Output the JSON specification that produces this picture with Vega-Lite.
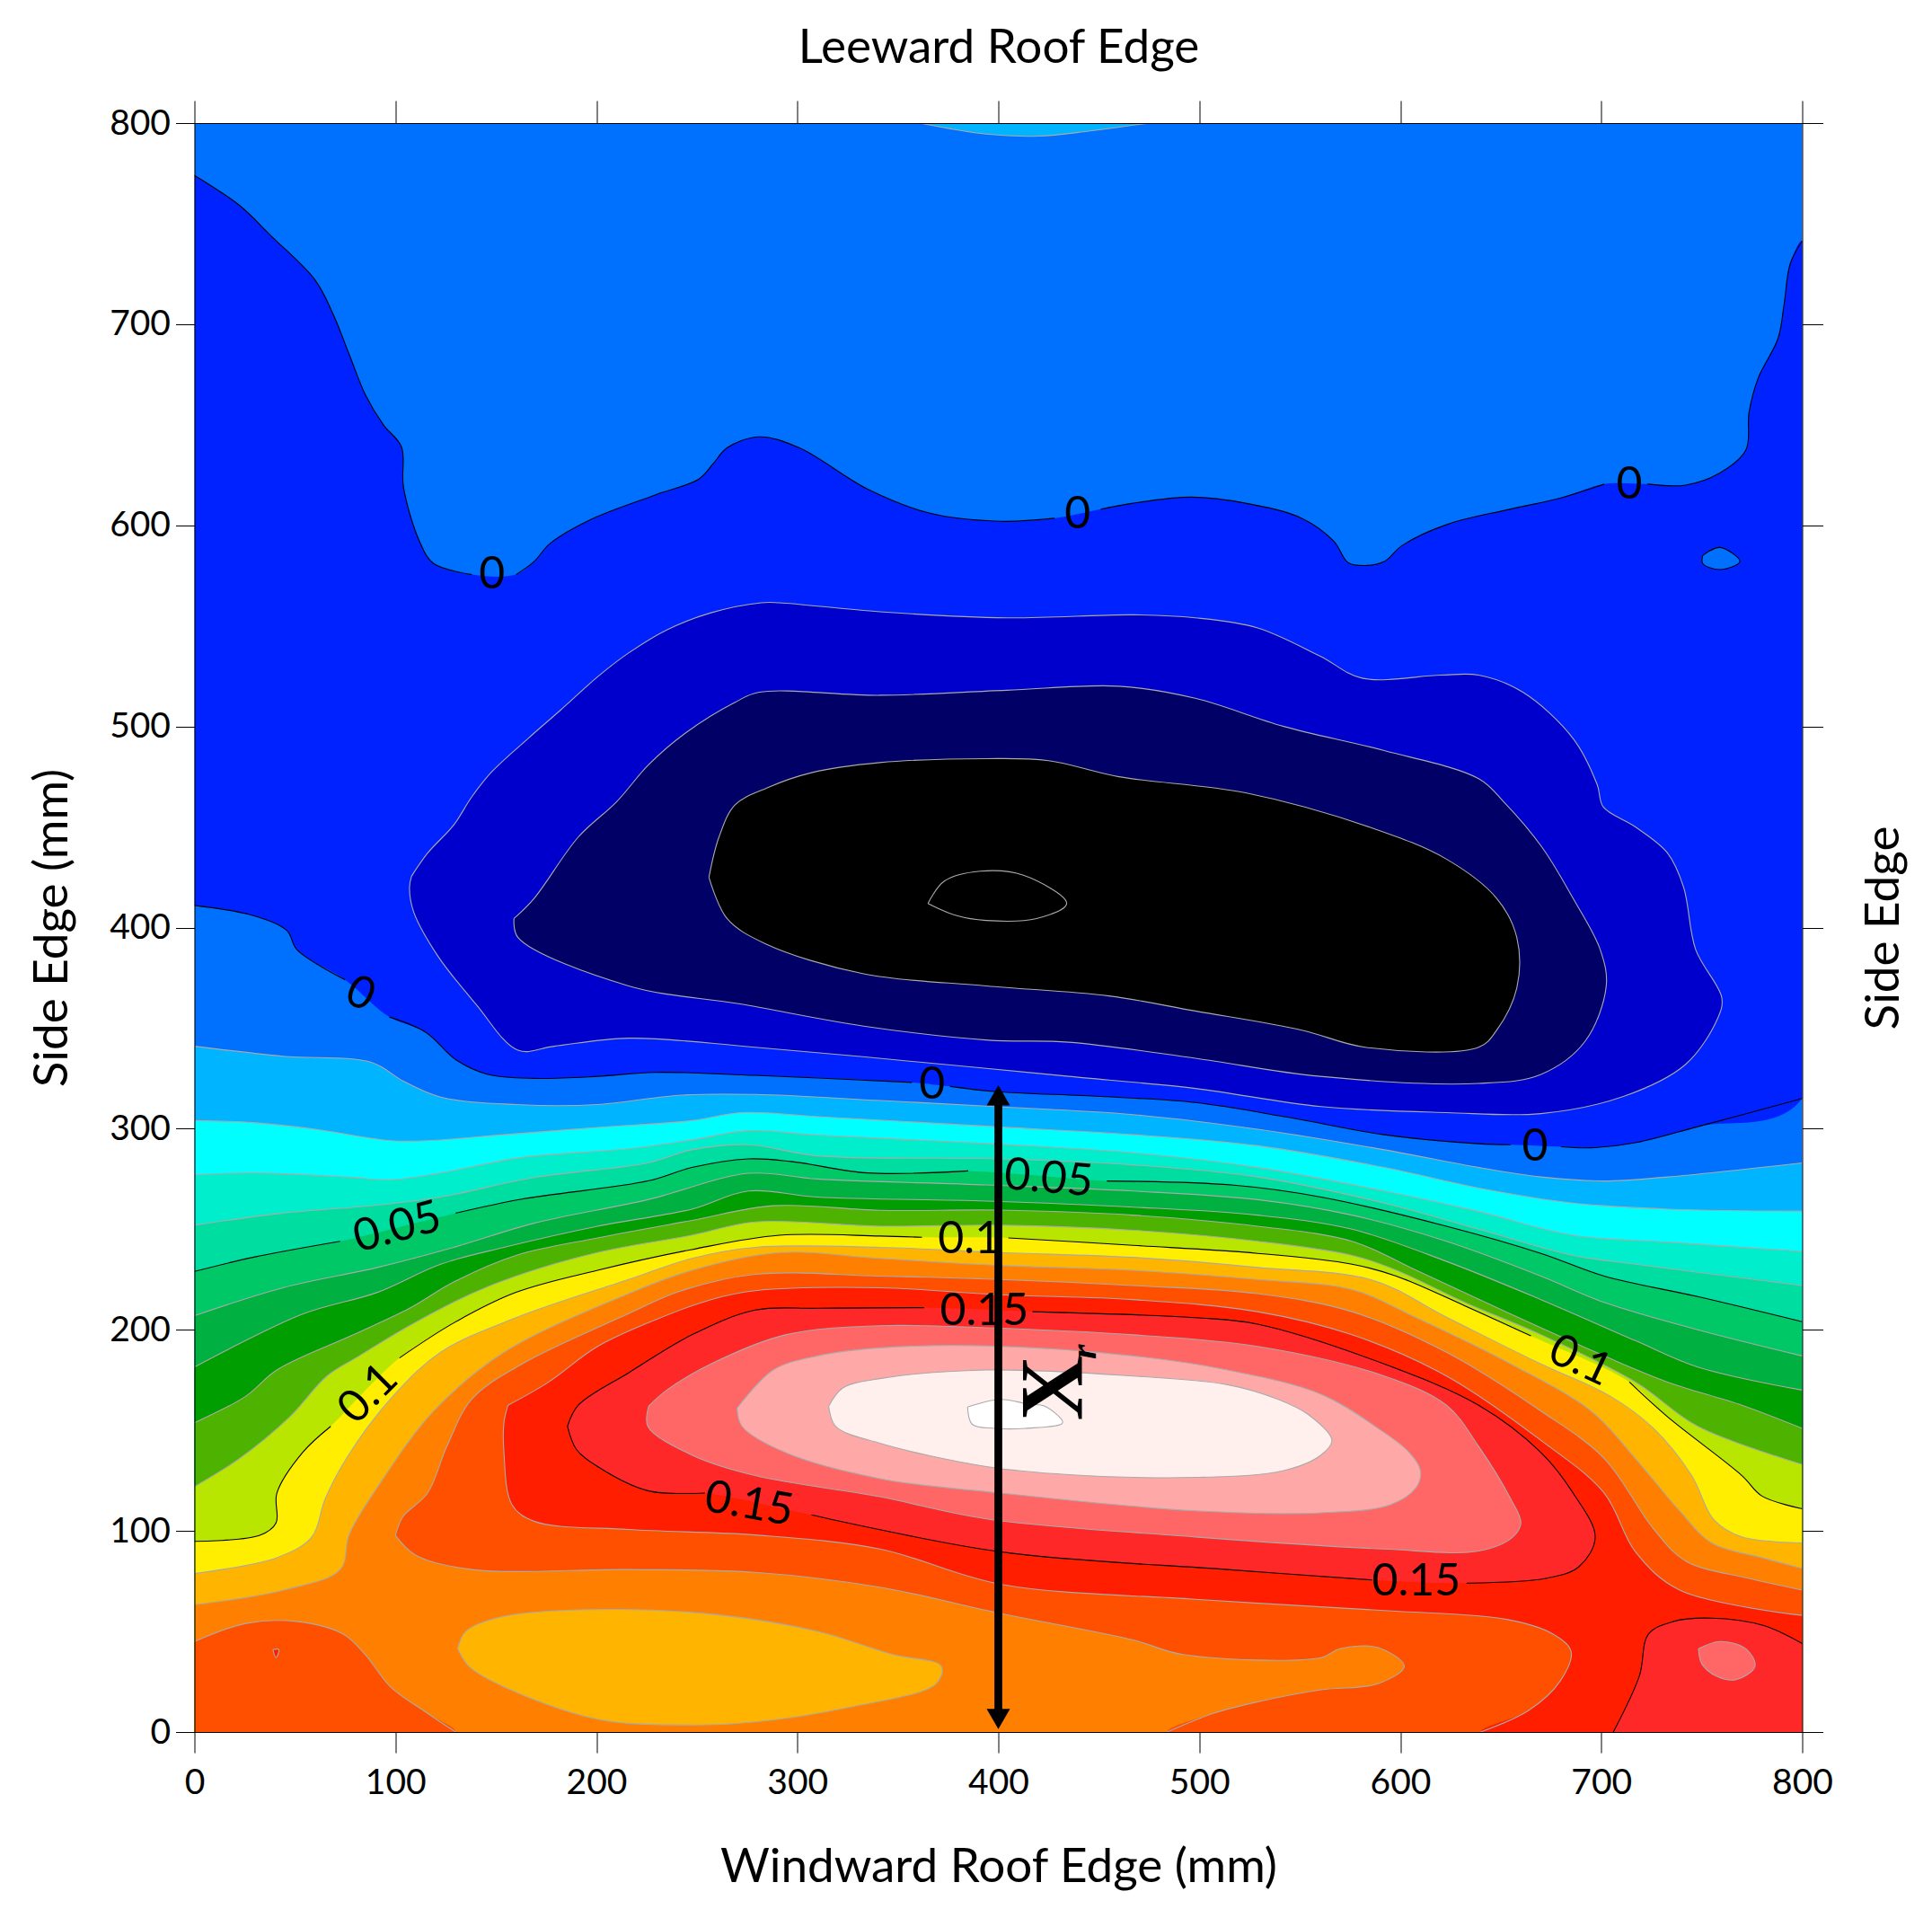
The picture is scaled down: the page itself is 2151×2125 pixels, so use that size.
{
"$schema":"https://vega.github.io/schema/vega-lite/v6.json",
"width":1790,"height":1791,
"autosize":{"type":"none"},
"padding":{"left":216.5,"top":137,"right":144.5,"bottom":197},
"background":"white",
"config":{"view":{"stroke":null},"font":"Lato"},
"datasets":{"regions":[
{"p":"b0","band":0,"contour":0},{"p":"cap","band":0.01,"contour":0.01},{"p":"n1","band":-0.01,"contour":0},{"p":"isl","band":0,"contour":0},
{"p":"n2","band":-0.02,"contour":-0.01},{"p":"n3","band":-0.03,"contour":-0.02},{"p":"n4","band":-0.04,"contour":-0.03},{"p":"n5","band":-0.05,"contour":-0.04},
{"p":"h1","band":0.01,"contour":0.01},{"p":"h2","band":0.02,"contour":0.02},{"p":"h3","band":0.03,"contour":0.03},{"p":"h4","band":0.04,"contour":0.04},{"p":"h5","band":0.05,"contour":0.05},
{"p":"h6","band":0.06,"contour":0.06},{"p":"h7","band":0.07,"contour":0.07},{"p":"h8","band":0.08,"contour":0.08},{"p":"h9","band":0.09,"contour":0.09},{"p":"h10","band":0.1,"contour":0.1},
{"p":"h11","band":0.11,"contour":0.11},{"p":"h12","band":0.12,"contour":0.12},{"p":"i11","band":0.11,"contour":0.12},{"p":"h13","band":0.13,"contour":0.13},{"p":"h13b","band":0.13,"contour":0.13},
{"p":"h14","band":0.14,"contour":0.14},{"p":"spot","band":0.14,"contour":0.14},{"p":"h15","band":0.15,"contour":0.15},{"p":"h15b","band":0.15,"contour":0.15},{"p":"h16","band":0.16,"contour":0.16},{"p":"i16","band":0.16,"contour":0.16},
{"p":"h17","band":0.17,"contour":0.17},{"p":"h18","band":0.18,"contour":0.18},{"p":"h19","band":0.19,"contour":0.19}
]},
"data":{"values":[
{"p":"b0","x":0,"y":0},{"p":"b0","x":800,"y":0},{"p":"b0","x":800,"y":800},{"p":"b0","x":0,"y":800},
{"p":"cap","x":361,"y":800,"s":1},{"p":"cap","x":394,"y":794.5,"s":1},{"p":"cap","x":420,"y":793.5,"s":1},{"p":"cap","x":445,"y":796,"s":1},{"p":"cap","x":475,"y":800,"s":1},
{"p":"n1","x":0,"y":774,"s":1},{"p":"n1","x":22.5,"y":759,"s":1},{"p":"n1","x":38,"y":744,"s":1},{"p":"n1","x":60,"y":722,"s":1},{"p":"n1","x":69,"y":705,"s":1},{"p":"n1","x":77,"y":685,"s":1},{"p":"n1","x":85,"y":665,"s":1},{"p":"n1","x":94,"y":650,"s":1},{"p":"n1","x":103,"y":639,"s":1},{"p":"n1","x":104,"y":619,"s":1},{"p":"n1","x":112,"y":592,"s":1},{"p":"n1","x":119,"y":581,"s":1},{"p":"n1","x":138,"y":575.5,"s":1},
{"p":"n1","x":160,"y":575.5,"s":2},{"p":"n1","x":169,"y":582,"s":2},{"p":"n1","x":177,"y":591,"s":2},{"p":"n1","x":197.5,"y":603,"s":2},{"p":"n1","x":229,"y":615,"s":2},{"p":"n1","x":251,"y":623,"s":2},{"p":"n1","x":258,"y":630.5,"s":2},{"p":"n1","x":265,"y":638.5,"s":2},{"p":"n1","x":281,"y":644,"s":2},{"p":"n1","x":301,"y":638.5,"s":2},{"p":"n1","x":335,"y":618,"s":2},{"p":"n1","x":366,"y":606,"s":2},{"p":"n1","x":401,"y":602,"s":2},{"p":"n1","x":428,"y":603.5,"s":2},
{"p":"n1","x":451,"y":608,"s":3},{"p":"n1","x":467,"y":611,"s":3},{"p":"n1","x":496,"y":614,"s":3},{"p":"n1","x":523,"y":611,"s":3},{"p":"n1","x":551,"y":603.5,"s":3},{"p":"n1","x":567,"y":592,"s":3},{"p":"n1","x":574,"y":581.5,"s":3},{"p":"n1","x":582.5,"y":580,"s":3},{"p":"n1","x":592,"y":582,"s":3},{"p":"n1","x":601,"y":590,"s":3},{"p":"n1","x":623.5,"y":600.5,"s":3},{"p":"n1","x":654.5,"y":608,"s":3},{"p":"n1","x":679.5,"y":613.5,"s":3},{"p":"n1","x":701.5,"y":620.5,"s":3},
{"p":"n1","x":723,"y":620.5,"s":4},{"p":"n1","x":742,"y":620,"s":4},{"p":"n1","x":759,"y":626,"s":4},{"p":"n1","x":772,"y":637.5,"s":4},{"p":"n1","x":773.5,"y":656,"s":4},{"p":"n1","x":778,"y":673,"s":4},{"p":"n1","x":788,"y":693,"s":4},{"p":"n1","x":791,"y":710,"s":4},{"p":"n1","x":794,"y":730,"s":4},{"p":"n1","x":800,"y":741.5,"s":4},
{"p":"n1","x":800,"y":315,"s":5},{"p":"n1","x":748,"y":301,"s":5},{"p":"n1","x":717,"y":293,"s":5},{"p":"n1","x":695,"y":290.5,"s":5},{"p":"n1","x":680,"y":291,"s":5},
{"p":"n1","x":655,"y":292,"s":6},{"p":"n1","x":639,"y":292.5,"s":6},{"p":"n1","x":592,"y":297,"s":6},{"p":"n1","x":545,"y":305.5,"s":6},{"p":"n1","x":498,"y":313,"s":6},{"p":"n1","x":451,"y":316,"s":6},{"p":"n1","x":398,"y":318.5,"s":6},{"p":"n1","x":376,"y":321,"s":6},
{"p":"n1","x":357,"y":323,"s":7},{"p":"n1","x":279,"y":326.5,"s":7},{"p":"n1","x":229,"y":328,"s":7},{"p":"n1","x":200.6,"y":326,"s":7},{"p":"n1","x":169,"y":325,"s":7},{"p":"n1","x":146,"y":327,"s":7},{"p":"n1","x":130.5,"y":334,"s":7},{"p":"n1","x":115,"y":348,"s":7},{"p":"n1","x":97,"y":355.5,"s":7},
{"p":"n1","x":75,"y":374,"s":8},{"p":"n1","x":51,"y":389,"s":8},{"p":"n1","x":46,"y":398.5,"s":8},{"p":"n1","x":29,"y":406,"s":8},{"p":"n1","x":0,"y":411,"s":8},
{"p":"isl","x":750.5,"y":585,"s":1},{"p":"isl","x":759,"y":589,"s":1},{"p":"isl","x":769,"y":582,"s":1},{"p":"isl","x":759,"y":578,"s":1},{"p":"isl","x":750.5,"y":581,"s":1},{"p":"isl","x":750.5,"y":585,"s":1},
{"p":"n2","x":108,"y":425.5,"s":1},{"p":"n2","x":116,"y":437,"s":1},{"p":"n2","x":129,"y":451,"s":1},{"p":"n2","x":138,"y":465,"s":1},{"p":"n2","x":147.5,"y":477,"s":1},{"p":"n2","x":166,"y":494,"s":1},{"p":"n2","x":182,"y":508,"s":1},{"p":"n2","x":201,"y":525,"s":1},{"p":"n2","x":216,"y":536.5,"s":1},{"p":"n2","x":235,"y":548,"s":1},{"p":"n2","x":257,"y":556.5,"s":1},{"p":"n2","x":282,"y":561.5,"s":1},{"p":"n2","x":291,"y":561.5,"s":1},{"p":"n2","x":341,"y":557,"s":1},{"p":"n2","x":404,"y":554,"s":1},{"p":"n2","x":467,"y":555.5,"s":1},{"p":"n2","x":498,"y":554,"s":1},{"p":"n2","x":529,"y":549,"s":1},{"p":"n2","x":560,"y":535,"s":1},{"p":"n2","x":581,"y":524,"s":1},{"p":"n2","x":620,"y":525.5,"s":1},{"p":"n2","x":639,"y":525.5,"s":1},{"p":"n2","x":661,"y":517,"s":1},{"p":"n2","x":686,"y":494,"s":1},{"p":"n2","x":698,"y":471,"s":1},{"p":"n2","x":701,"y":460,"s":1},{"p":"n2","x":717,"y":450,"s":1},{"p":"n2","x":733,"y":437,"s":1},{"p":"n2","x":741,"y":420,"s":1},{"p":"n2","x":747,"y":389,"s":1},{"p":"n2","x":760,"y":365,"s":1},{"p":"n2","x":758,"y":355,"s":1},{"p":"n2","x":742,"y":332,"s":1},{"p":"n2","x":711,"y":316,"s":1},{"p":"n2","x":670,"y":307.5,"s":1},{"p":"n2","x":623,"y":308,"s":1},{"p":"n2","x":560.5,"y":311,"s":1},{"p":"n2","x":498,"y":320,"s":1},{"p":"n2","x":435,"y":326,"s":1},{"p":"n2","x":394,"y":330,"s":1},{"p":"n2","x":279,"y":340.5,"s":1},{"p":"n2","x":216,"y":345,"s":1},{"p":"n2","x":179,"y":341,"s":1},{"p":"n2","x":161,"y":339,"s":1},{"p":"n2","x":140,"y":362,"s":1},{"p":"n2","x":121,"y":386,"s":1},{"p":"n2","x":109,"y":408,"s":1},{"p":"n2","x":107,"y":420,"s":1},{"p":"n2","x":108,"y":425.5,"s":1},
{"p":"n3","x":159,"y":404.5,"s":1},{"p":"n3","x":169,"y":414.5,"s":1},{"p":"n3","x":191,"y":445,"s":1},{"p":"n3","x":210,"y":462.5,"s":1},{"p":"n3","x":226,"y":481,"s":1},{"p":"n3","x":244,"y":496.5,"s":1},{"p":"n3","x":269,"y":512,"s":1},{"p":"n3","x":281,"y":517,"s":1},{"p":"n3","x":341,"y":515.5,"s":1},{"p":"n3","x":404,"y":518,"s":1},{"p":"n3","x":460,"y":520,"s":1},{"p":"n3","x":498,"y":514,"s":1},{"p":"n3","x":542,"y":500,"s":1},{"p":"n3","x":592,"y":488,"s":1},{"p":"n3","x":639,"y":474,"s":1},{"p":"n3","x":651.5,"y":462.5,"s":1},{"p":"n3","x":670.5,"y":440,"s":1},{"p":"n3","x":686,"y":414.5,"s":1},{"p":"n3","x":699.5,"y":389,"s":1},{"p":"n3","x":702.5,"y":371,"s":1},{"p":"n3","x":692,"y":343.5,"s":1},{"p":"n3","x":670,"y":327,"s":1},{"p":"n3","x":639,"y":322.5,"s":1},{"p":"n3","x":560,"y":326,"s":1},{"p":"n3","x":498,"y":335,"s":1},{"p":"n3","x":435,"y":343,"s":1},{"p":"n3","x":395,"y":344,"s":1},{"p":"n3","x":333,"y":351,"s":1},{"p":"n3","x":271.5,"y":362,"s":1},{"p":"n3","x":216,"y":371,"s":1},{"p":"n3","x":161,"y":395,"s":1},{"p":"n3","x":159,"y":404.5,"s":1},
{"p":"n4","x":256,"y":425,"s":1},{"p":"n4","x":261,"y":445,"s":1},{"p":"n4","x":269,"y":461,"s":1},{"p":"n4","x":285,"y":469.5,"s":1},{"p":"n4","x":307,"y":477,"s":1},{"p":"n4","x":341,"y":482,"s":1},{"p":"n4","x":394,"y":484,"s":1},{"p":"n4","x":425,"y":483,"s":1},{"p":"n4","x":460,"y":475,"s":1},{"p":"n4","x":523,"y":467,"s":1},{"p":"n4","x":586,"y":449.5,"s":1},{"p":"n4","x":623,"y":434,"s":1},{"p":"n4","x":648,"y":414.5,"s":1},{"p":"n4","x":658,"y":395,"s":1},{"p":"n4","x":658,"y":370,"s":1},{"p":"n4","x":648,"y":349,"s":1},{"p":"n4","x":639,"y":340.5,"s":1},{"p":"n4","x":582.5,"y":340.5,"s":1},{"p":"n4","x":551,"y":349,"s":1},{"p":"n4","x":498,"y":358.5,"s":1},{"p":"n4","x":455,"y":366,"s":1},{"p":"n4","x":394,"y":371,"s":1},{"p":"n4","x":333,"y":377,"s":1},{"p":"n4","x":284,"y":392,"s":1},{"p":"n4","x":265,"y":404.5,"s":1},{"p":"n4","x":256,"y":425,"s":1},
{"p":"n5","x":365,"y":412,"s":1},{"p":"n5","x":373,"y":423,"s":1},{"p":"n5","x":391,"y":428,"s":1},{"p":"n5","x":412.5,"y":426,"s":1},{"p":"n5","x":434,"y":412,"s":1},{"p":"n5","x":419,"y":404.5,"s":1},{"p":"n5","x":394,"y":403.5,"s":1},{"p":"n5","x":379,"y":406,"s":1},{"p":"n5","x":365,"y":412,"s":1},
{"p":"h1","x":0,"y":341,"s":1},{"p":"h1","x":44,"y":336,"s":1},{"p":"h1","x":88,"y":333,"s":1},{"p":"h1","x":104,"y":323.6,"s":1},{"p":"h1","x":122.5,"y":315.7,"s":1},{"p":"h1","x":160,"y":312,"s":1},{"p":"h1","x":200.6,"y":312,"s":1},{"p":"h1","x":241,"y":316.6,"s":1},{"p":"h1","x":279,"y":317,"s":1},{"p":"h1","x":341,"y":314,"s":1},{"p":"h1","x":398,"y":311,"s":1},{"p":"h1","x":467,"y":307,"s":1},{"p":"h1","x":529,"y":299.7,"s":1},{"p":"h1","x":592,"y":289.5,"s":1},{"p":"h1","x":639,"y":280.7,"s":1},{"p":"h1","x":670,"y":276,"s":1},{"p":"h1","x":701.5,"y":274,"s":1},{"p":"h1","x":733,"y":276,"s":1},{"p":"h1","x":800,"y":283,"s":1},{"p":"h1","x":820,"y":285},{"p":"h1","x":820,"y":0},{"p":"h1","x":0,"y":0},
{"p":"h2","x":0,"y":304,"s":1},{"p":"h2","x":29,"y":303,"s":1},{"p":"h2","x":60,"y":299.7,"s":1},{"p":"h2","x":97.5,"y":294,"s":1},{"p":"h2","x":116,"y":294,"s":1},{"p":"h2","x":154,"y":297,"s":1},{"p":"h2","x":200.6,"y":300.6,"s":1},{"p":"h2","x":247.5,"y":304,"s":1},{"p":"h2","x":272.5,"y":308,"s":1},{"p":"h2","x":310,"y":306,"s":1},{"p":"h2","x":398,"y":301,"s":1},{"p":"h2","x":467,"y":297,"s":1},{"p":"h2","x":529,"y":291.5,"s":1},{"p":"h2","x":592,"y":280.7,"s":1},{"p":"h2","x":639,"y":270.5,"s":1},{"p":"h2","x":686,"y":263,"s":1},{"p":"h2","x":733,"y":260,"s":1},{"p":"h2","x":800,"y":259,"s":1},{"p":"h2","x":820,"y":259},{"p":"h2","x":820,"y":0},{"p":"h2","x":0,"y":0},
{"p":"h3","x":0,"y":277,"s":1},{"p":"h3","x":29,"y":278,"s":1},{"p":"h3","x":75.6,"y":276,"s":1},{"p":"h3","x":97.5,"y":274.6,"s":1},{"p":"h3","x":122.5,"y":278,"s":1},{"p":"h3","x":163,"y":285.7,"s":1},{"p":"h3","x":216,"y":290,"s":1},{"p":"h3","x":247.5,"y":294.4,"s":1},{"p":"h3","x":275.6,"y":299,"s":1},{"p":"h3","x":310,"y":296.8,"s":1},{"p":"h3","x":398,"y":292.4,"s":1},{"p":"h3","x":467,"y":288,"s":1},{"p":"h3","x":529,"y":280.7,"s":1},{"p":"h3","x":592,"y":269,"s":1},{"p":"h3","x":639,"y":258.8,"s":1},{"p":"h3","x":686,"y":247,"s":1},{"p":"h3","x":733,"y":243.6,"s":1},{"p":"h3","x":800,"y":239,"s":1},{"p":"h3","x":820,"y":237.5},{"p":"h3","x":820,"y":0},{"p":"h3","x":0,"y":0},
{"p":"h4","x":0,"y":252,"s":1},{"p":"h4","x":44,"y":258,"s":1},{"p":"h4","x":91,"y":262,"s":1},{"p":"h4","x":122.5,"y":266,"s":1},{"p":"h4","x":169,"y":275.7,"s":1},{"p":"h4","x":225.6,"y":283,"s":1},{"p":"h4","x":247.5,"y":289.5,"s":1},{"p":"h4","x":275.6,"y":292,"s":1},{"p":"h4","x":310,"y":286.5,"s":1},{"p":"h4","x":401,"y":285,"s":1},{"p":"h4","x":467,"y":282,"s":1},{"p":"h4","x":529,"y":276,"s":1},{"p":"h4","x":592,"y":263,"s":1},{"p":"h4","x":639,"y":250,"s":1},{"p":"h4","x":686,"y":237,"s":1},{"p":"h4","x":717,"y":232.6,"s":1},{"p":"h4","x":800,"y":222,"s":1},{"p":"h4","x":820,"y":218},{"p":"h4","x":820,"y":0},{"p":"h4","x":0,"y":0},
{"p":"h5","x":0,"y":229,"s":1},{"p":"h5","x":29,"y":236,"s":1},{"p":"h5","x":72.5,"y":244,"s":1},{"p":"h5","x":130,"y":258,"s":2},{"p":"h5","x":163,"y":265,"s":2},{"p":"h5","x":225.6,"y":274,"s":2},{"p":"h5","x":247.5,"y":280.7,"s":2},{"p":"h5","x":275.6,"y":285,"s":2},{"p":"h5","x":297.5,"y":283.6,"s":2},{"p":"h5","x":335,"y":278,"s":2},{"p":"h5","x":385,"y":279,"s":2},{"p":"h5","x":454,"y":274,"s":3},{"p":"h5","x":516,"y":272,"s":3},{"p":"h5","x":560.5,"y":266,"s":3},{"p":"h5","x":623,"y":251.5,"s":3},{"p":"h5","x":670,"y":238,"s":3},{"p":"h5","x":701.5,"y":226.7,"s":3},{"p":"h5","x":748,"y":216.5,"s":3},{"p":"h5","x":800,"y":204,"s":3},{"p":"h5","x":820,"y":199},{"p":"h5","x":820,"y":0},{"p":"h5","x":0,"y":0},
{"p":"h6","x":0,"y":207,"s":1},{"p":"h6","x":44.4,"y":221,"s":1},{"p":"h6","x":91,"y":231,"s":1},{"p":"h6","x":129,"y":241,"s":1},{"p":"h6","x":169,"y":253,"s":1},{"p":"h6","x":225.6,"y":264.7,"s":1},{"p":"h6","x":275.6,"y":277.8,"s":1},{"p":"h6","x":310,"y":275,"s":1},{"p":"h6","x":394,"y":272,"s":1},{"p":"h6","x":467,"y":269,"s":1},{"p":"h6","x":529,"y":264.7,"s":1},{"p":"h6","x":576,"y":257,"s":1},{"p":"h6","x":623,"y":244,"s":1},{"p":"h6","x":670,"y":226.7,"s":1},{"p":"h6","x":701.5,"y":213.6,"s":1},{"p":"h6","x":748,"y":200,"s":1},{"p":"h6","x":800,"y":187,"s":1},{"p":"h6","x":820,"y":182},{"p":"h6","x":820,"y":0},{"p":"h6","x":0,"y":0},
{"p":"h7","x":0,"y":181.5,"s":1},{"p":"h7","x":53.8,"y":207.8,"s":1},{"p":"h7","x":91,"y":218.6,"s":1},{"p":"h7","x":122.5,"y":232.6,"s":1},{"p":"h7","x":154,"y":241,"s":1},{"p":"h7","x":200.6,"y":251.5,"s":1},{"p":"h7","x":247.5,"y":260,"s":1},{"p":"h7","x":275.6,"y":269,"s":1},{"p":"h7","x":310,"y":266,"s":1},{"p":"h7","x":394,"y":264,"s":1},{"p":"h7","x":467,"y":261,"s":1},{"p":"h7","x":529,"y":257,"s":1},{"p":"h7","x":576,"y":250,"s":1},{"p":"h7","x":623,"y":234,"s":1},{"p":"h7","x":670,"y":215,"s":1},{"p":"h7","x":717,"y":194.6,"s":1},{"p":"h7","x":748,"y":181.5,"s":1},{"p":"h7","x":800,"y":170,"s":1},{"p":"h7","x":820,"y":165},{"p":"h7","x":820,"y":0},{"p":"h7","x":0,"y":0},
{"p":"h8","x":0,"y":153.8,"s":1},{"p":"h8","x":25.6,"y":167,"s":1},{"p":"h8","x":41,"y":180,"s":1},{"p":"h8","x":79,"y":197.5,"s":1},{"p":"h8","x":107,"y":210.7,"s":1},{"p":"h8","x":129,"y":223.8,"s":1},{"p":"h8","x":160,"y":237,"s":1},{"p":"h8","x":200.6,"y":245.7,"s":1},{"p":"h8","x":247.5,"y":254.4,"s":1},{"p":"h8","x":288,"y":261.7,"s":1},{"p":"h8","x":341,"y":259.4,"s":1},{"p":"h8","x":401,"y":259.5,"s":1},{"p":"h8","x":467,"y":257,"s":1},{"p":"h8","x":529,"y":251.5,"s":1},{"p":"h8","x":576,"y":244,"s":1},{"p":"h8","x":608,"y":229.6,"s":1},{"p":"h8","x":655,"y":207.8,"s":1},{"p":"h8","x":701.5,"y":187,"s":1},{"p":"h8","x":733,"y":174,"s":1},{"p":"h8","x":770,"y":162.5,"s":1},{"p":"h8","x":800,"y":151,"s":1},{"p":"h8","x":820,"y":144},{"p":"h8","x":820,"y":0},{"p":"h8","x":0,"y":0},
{"p":"h9","x":0,"y":122,"s":1},{"p":"h9","x":22.5,"y":136,"s":1},{"p":"h9","x":47.5,"y":156.7,"s":1},{"p":"h9","x":66,"y":177,"s":1},{"p":"h9","x":82,"y":187,"s":1},{"p":"h9","x":107,"y":202,"s":1},{"p":"h9","x":138,"y":218,"s":1},{"p":"h9","x":160,"y":226.7,"s":1},{"p":"h9","x":200.6,"y":238.4,"s":1},{"p":"h9","x":247.5,"y":247,"s":1},{"p":"h9","x":279,"y":253.6,"s":1},{"p":"h9","x":341,"y":251.5,"s":1},{"p":"h9","x":401,"y":252,"s":1},{"p":"h9","x":467,"y":249.5,"s":1},{"p":"h9","x":529,"y":244,"s":1},{"p":"h9","x":576,"y":237,"s":1},{"p":"h9","x":598,"y":229.6,"s":1},{"p":"h9","x":632,"y":213.6,"s":1},{"p":"h9","x":670,"y":197.5,"s":1},{"p":"h9","x":717,"y":174,"s":1},{"p":"h9","x":748,"y":152,"s":1},{"p":"h9","x":800,"y":133,"s":1},{"p":"h9","x":820,"y":126},{"p":"h9","x":820,"y":0},{"p":"h9","x":0,"y":0},
{"p":"h10","x":0,"y":94.8,"s":1},{"p":"h10","x":32.5,"y":97.8,"s":1},{"p":"h10","x":40.6,"y":104,"s":1},{"p":"h10","x":41,"y":118.8,"s":1},{"p":"h10","x":53.8,"y":139,"s":1},{"p":"h10","x":67.8,"y":152,"s":1},{"p":"h10","x":102,"y":186,"s":2},{"p":"h10","x":129,"y":203.4,"s":2},{"p":"h10","x":160,"y":218.6,"s":2},{"p":"h10","x":200.6,"y":229.6,"s":2},{"p":"h10","x":247.5,"y":239.9,"s":2},{"p":"h10","x":291,"y":247,"s":2},{"p":"h10","x":341,"y":246.6,"s":2},{"p":"h10","x":362,"y":246,"s":2},{"p":"h10","x":405,"y":245.7,"s":3},{"p":"h10","x":467,"y":242,"s":3},{"p":"h10","x":529,"y":238,"s":3},{"p":"h10","x":576,"y":232.6,"s":3},{"p":"h10","x":598,"y":226.7,"s":3},{"p":"h10","x":632,"y":212,"s":3},{"p":"h10","x":665,"y":197,"s":3},{"p":"h10","x":714,"y":174,"s":4},{"p":"h10","x":733,"y":156.7,"s":4},{"p":"h10","x":770,"y":127.5,"s":4},{"p":"h10","x":780,"y":117.3,"s":4},{"p":"h10","x":800,"y":111,"s":4},{"p":"h10","x":820,"y":105},{"p":"h10","x":820,"y":0},{"p":"h10","x":0,"y":0},
{"p":"h11","x":0,"y":78.8,"s":1},{"p":"h11","x":41,"y":86.7,"s":1},{"p":"h11","x":58.4,"y":97,"s":1},{"p":"h11","x":65,"y":115.8,"s":1},{"p":"h11","x":75.6,"y":136,"s":1},{"p":"h11","x":97.5,"y":165.5,"s":1},{"p":"h11","x":122.5,"y":188.8,"s":1},{"p":"h11","x":160,"y":206,"s":1},{"p":"h11","x":216,"y":225,"s":1},{"p":"h11","x":247.5,"y":235.5,"s":1},{"p":"h11","x":279,"y":241,"s":1},{"p":"h11","x":341,"y":241,"s":1},{"p":"h11","x":401,"y":238.4,"s":1},{"p":"h11","x":467,"y":236,"s":1},{"p":"h11","x":529,"y":231,"s":1},{"p":"h11","x":586,"y":224.7,"s":1},{"p":"h11","x":623,"y":206.3,"s":1},{"p":"h11","x":670,"y":183,"s":1},{"p":"h11","x":704.5,"y":167,"s":1},{"p":"h11","x":726,"y":151,"s":1},{"p":"h11","x":745,"y":127.5,"s":1},{"p":"h11","x":756,"y":105.6,"s":1},{"p":"h11","x":770,"y":97,"s":1},{"p":"h11","x":800,"y":94,"s":1},{"p":"h11","x":820,"y":93},{"p":"h11","x":820,"y":0},{"p":"h11","x":0,"y":0},
{"p":"h12","x":0,"y":63.3,"s":1},{"p":"h12","x":44.4,"y":70.6,"s":1},{"p":"h12","x":72.5,"y":80.8,"s":1},{"p":"h12","x":77,"y":98.3,"s":1},{"p":"h12","x":91,"y":121.7,"s":1},{"p":"h12","x":119,"y":159.6,"s":1},{"p":"h12","x":154,"y":188.8,"s":1},{"p":"h12","x":216,"y":218,"s":1},{"p":"h12","x":247.5,"y":229.6,"s":1},{"p":"h12","x":291,"y":238.4,"s":1},{"p":"h12","x":341,"y":235.5,"s":1},{"p":"h12","x":401,"y":232,"s":1},{"p":"h12","x":467,"y":229.6,"s":1},{"p":"h12","x":529,"y":225,"s":1},{"p":"h12","x":576,"y":220,"s":1},{"p":"h12","x":608,"y":206,"s":1},{"p":"h12","x":655,"y":183,"s":1},{"p":"h12","x":695,"y":159.6,"s":1},{"p":"h12","x":717,"y":136,"s":1},{"p":"h12","x":739,"y":110,"s":1},{"p":"h12","x":755,"y":94,"s":1},{"p":"h12","x":780,"y":86.7,"s":1},{"p":"h12","x":800,"y":81.4,"s":1},{"p":"h12","x":820,"y":76},{"p":"h12","x":820,"y":0},{"p":"h12","x":0,"y":0},
{"p":"i11","x":131,"y":41.4,"s":1},{"p":"i11","x":135,"y":50,"s":1},{"p":"i11","x":154,"y":57.5,"s":1},{"p":"i11","x":210,"y":61,"s":1},{"p":"i11","x":263,"y":58,"s":1},{"p":"i11","x":310,"y":50,"s":1},{"p":"i11","x":347.5,"y":38.5,"s":1},{"p":"i11","x":371.6,"y":32.7,"s":1},{"p":"i11","x":369,"y":24,"s":1},{"p":"i11","x":325.6,"y":12.3,"s":1},{"p":"i11","x":279,"y":5,"s":1},{"p":"i11","x":247.5,"y":3.5,"s":1},{"p":"i11","x":200.6,"y":6.4,"s":1},{"p":"i11","x":154,"y":22.5,"s":1},{"p":"i11","x":136.6,"y":32.7,"s":1},{"p":"i11","x":131,"y":41.4,"s":1},
{"p":"h13","x":100,"y":97.8,"s":1},{"p":"h13","x":103.7,"y":107,"s":1},{"p":"h13","x":116,"y":118.8,"s":1},{"p":"h13","x":125.6,"y":142,"s":1},{"p":"h13","x":138,"y":165.5,"s":1},{"p":"h13","x":163,"y":183,"s":1},{"p":"h13","x":216,"y":208,"s":1},{"p":"h13","x":241,"y":219,"s":1},{"p":"h13","x":279,"y":227.6,"s":1},{"p":"h13","x":341,"y":226.7,"s":1},{"p":"h13","x":401,"y":225,"s":1},{"p":"h13","x":467,"y":222,"s":1},{"p":"h13","x":529,"y":218,"s":1},{"p":"h13","x":576,"y":209,"s":1},{"p":"h13","x":623,"y":188.8,"s":1},{"p":"h13","x":670,"y":159.6,"s":1},{"p":"h13","x":701.5,"y":136,"s":1},{"p":"h13","x":726,"y":101,"s":1},{"p":"h13","x":742,"y":85,"s":1},{"p":"h13","x":773,"y":76.5,"s":1},{"p":"h13","x":800,"y":70.6,"s":1},{"p":"h13","x":820,"y":66},{"p":"h13","x":820,"y":0},
{"p":"h13","x":484,"y":0,"s":2},{"p":"h13","x":507,"y":9.3,"s":2},{"p":"h13","x":529,"y":15,"s":2},{"p":"h13","x":560.5,"y":21,"s":2},{"p":"h13","x":589,"y":24,"s":2},{"p":"h13","x":602,"y":32.7,"s":2},{"p":"h13","x":589,"y":42,"s":2},{"p":"h13","x":570,"y":41.4,"s":2},{"p":"h13","x":560.5,"y":37,"s":2},{"p":"h13","x":492,"y":38.5,"s":2},{"p":"h13","x":467,"y":45.8,"s":2},{"p":"h13","x":401,"y":59,"s":2},{"p":"h13","x":341,"y":72,"s":2},{"p":"h13","x":279,"y":79.4,"s":2},{"p":"h13","x":216,"y":80.8,"s":2},{"p":"h13","x":138,"y":80.8,"s":2},{"p":"h13","x":110,"y":88,"s":2},{"p":"h13","x":100,"y":97.8,"s":2},
{"p":"h13b","x":0,"y":45,"s":1},{"p":"h13b","x":25.6,"y":54,"s":1},{"p":"h13b","x":50.6,"y":55,"s":1},{"p":"h13b","x":74,"y":48.7,"s":1},{"p":"h13b","x":85,"y":38.5,"s":1},{"p":"h13b","x":97.5,"y":22.5,"s":1},{"p":"h13b","x":116,"y":9.3,"s":1},{"p":"h13b","x":130,"y":0,"s":1},{"p":"h13b","x":0,"y":0},
{"p":"h14","x":156,"y":162.5,"s":1},{"p":"h14","x":175.6,"y":173.6,"s":1},{"p":"h14","x":200.6,"y":191.7,"s":1},{"p":"h14","x":229,"y":204.8,"s":1},{"p":"h14","x":257,"y":215,"s":1},{"p":"h14","x":279,"y":219.4,"s":1},{"p":"h14","x":341,"y":220.9,"s":1},{"p":"h14","x":401,"y":217.4,"s":1},{"p":"h14","x":467,"y":215,"s":1},{"p":"h14","x":529,"y":209,"s":1},{"p":"h14","x":576,"y":197.5,"s":1},{"p":"h14","x":623,"y":177,"s":1},{"p":"h14","x":670,"y":145,"s":1},{"p":"h14","x":701.5,"y":118.8,"s":1},{"p":"h14","x":717,"y":89.6,"s":1},{"p":"h14","x":739,"y":70.6,"s":1},{"p":"h14","x":800,"y":58,"s":1},{"p":"h14","x":820,"y":54},{"p":"h14","x":820,"y":0},
{"p":"h14","x":640,"y":0,"s":2},{"p":"h14","x":664,"y":10.8,"s":2},{"p":"h14","x":679.6,"y":25.4,"s":2},{"p":"h14","x":685,"y":40,"s":2},{"p":"h14","x":676,"y":48.7,"s":2},{"p":"h14","x":653,"y":56,"s":2},{"p":"h14","x":592,"y":60.4,"s":2},{"p":"h14","x":498,"y":66,"s":2},{"p":"h14","x":401,"y":73.5,"s":2},{"p":"h14","x":341,"y":91,"s":2},{"p":"h14","x":279,"y":98,"s":2},{"p":"h14","x":216,"y":100.7,"s":2},{"p":"h14","x":169,"y":104.8,"s":2},{"p":"h14","x":158,"y":113,"s":2},{"p":"h14","x":154,"y":139,"s":2},{"p":"h14","x":154,"y":153.8,"s":2},{"p":"h14","x":156,"y":162.5,"s":2},
{"p":"spot","x":39,"y":41,"s":1},{"p":"spot","x":42,"y":41,"s":1},{"p":"spot","x":40.5,"y":37,"s":1},{"p":"spot","x":39,"y":41,"s":1},
{"p":"h15","x":185.6,"y":152,"s":1},{"p":"h15","x":191,"y":162.5,"s":1},{"p":"h15","x":216,"y":178.6,"s":1},{"p":"h15","x":247.5,"y":197.5,"s":1},{"p":"h15","x":279,"y":209.8,"s":1},{"p":"h15","x":310,"y":210.7,"s":1},{"p":"h15","x":363,"y":211,"s":1},{"p":"h15","x":417,"y":209,"s":2},{"p":"h15","x":498,"y":206,"s":2},{"p":"h15","x":529,"y":202.8,"s":2},{"p":"h15","x":592,"y":183,"s":2},{"p":"h15","x":639,"y":162.5,"s":2},{"p":"h15","x":670,"y":139,"s":2},{"p":"h15","x":686,"y":118.8,"s":2},{"p":"h15","x":697,"y":96.9,"s":2},{"p":"h15","x":689,"y":82.3,"s":2},{"p":"h15","x":673,"y":76.5,"s":2},{"p":"h15","x":633,"y":74,"s":2},{"p":"h15","x":586,"y":75.6,"s":3},{"p":"h15","x":514,"y":80.8,"s":3},{"p":"h15","x":401,"y":89.6,"s":3},{"p":"h15","x":307,"y":108,"s":3},{"p":"h15","x":254,"y":118.8,"s":4},{"p":"h15","x":225.6,"y":120,"s":4},{"p":"h15","x":200.6,"y":132,"s":4},{"p":"h15","x":190,"y":140.6,"s":4},{"p":"h15","x":185.6,"y":152,"s":4},
{"p":"h15b","x":706,"y":0,"s":1},{"p":"h15b","x":719,"y":28,"s":1},{"p":"h15b","x":723.5,"y":48.7,"s":1},{"p":"h15b","x":736,"y":55,"s":1},{"p":"h15b","x":755,"y":56.6,"s":1},{"p":"h15b","x":780.5,"y":53,"s":1},{"p":"h15b","x":800,"y":44,"s":1},{"p":"h15b","x":820,"y":35},{"p":"h15b","x":820,"y":0},
{"p":"h16","x":226,"y":162,"s":1},{"p":"h16","x":235,"y":170,"s":1},{"p":"h16","x":257,"y":183,"s":1},{"p":"h16","x":294,"y":197.5,"s":1},{"p":"h16","x":341,"y":202,"s":1},{"p":"h16","x":394,"y":201,"s":1},{"p":"h16","x":467,"y":197.5,"s":1},{"p":"h16","x":529,"y":191.7,"s":1},{"p":"h16","x":592,"y":177,"s":1},{"p":"h16","x":623,"y":162.5,"s":1},{"p":"h16","x":639,"y":142,"s":1},{"p":"h16","x":655,"y":115.8,"s":1},{"p":"h16","x":660,"y":104,"s":1},{"p":"h16","x":656,"y":97,"s":1},{"p":"h16","x":639,"y":90,"s":1},{"p":"h16","x":592,"y":91,"s":1},{"p":"h16","x":498,"y":97,"s":1},{"p":"h16","x":394,"y":106,"s":1},{"p":"h16","x":341,"y":117,"s":1},{"p":"h16","x":279,"y":127.5,"s":1},{"p":"h16","x":247.5,"y":137.7,"s":1},{"p":"h16","x":225.6,"y":152,"s":1},{"p":"h16","x":226,"y":162,"s":1},
{"p":"i16","x":748.4,"y":41.4,"s":1},{"p":"i16","x":759,"y":45,"s":1},{"p":"i16","x":772,"y":41.4,"s":1},{"p":"i16","x":776.5,"y":32.7,"s":1},{"p":"i16","x":767,"y":26,"s":1},{"p":"i16","x":757.5,"y":27.7,"s":1},{"p":"i16","x":750,"y":34,"s":1},{"p":"i16","x":748.4,"y":41.4,"s":1},
{"p":"h17","x":270,"y":161,"s":1},{"p":"h17","x":288,"y":180,"s":1},{"p":"h17","x":310,"y":187,"s":1},{"p":"h17","x":341,"y":191,"s":1},{"p":"h17","x":394,"y":192,"s":1},{"p":"h17","x":467,"y":187,"s":1},{"p":"h17","x":514,"y":180,"s":1},{"p":"h17","x":560.5,"y":168,"s":1},{"p":"h17","x":589,"y":151,"s":1},{"p":"h17","x":604.5,"y":139,"s":1},{"p":"h17","x":610,"y":130,"s":1},{"p":"h17","x":608,"y":121.7,"s":1},{"p":"h17","x":595,"y":113,"s":1},{"p":"h17","x":560.5,"y":109,"s":1},{"p":"h17","x":498,"y":110,"s":1},{"p":"h17","x":401,"y":118.8,"s":1},{"p":"h17","x":341,"y":126,"s":1},{"p":"h17","x":294,"y":139,"s":1},{"p":"h17","x":272.5,"y":152,"s":1},{"p":"h17","x":270,"y":161,"s":1},
{"p":"h18","x":315.6,"y":162,"s":1},{"p":"h18","x":322.5,"y":171,"s":1},{"p":"h18","x":341,"y":175.7,"s":1},{"p":"h18","x":394,"y":180,"s":1},{"p":"h18","x":467,"y":177,"s":1},{"p":"h18","x":514,"y":172.7,"s":1},{"p":"h18","x":539,"y":165.5,"s":1},{"p":"h18","x":554,"y":158,"s":1},{"p":"h18","x":566,"y":145,"s":1},{"p":"h18","x":560.5,"y":137.7,"s":1},{"p":"h18","x":542,"y":130,"s":1},{"p":"h18","x":498,"y":126.6,"s":1},{"p":"h18","x":435,"y":128,"s":1},{"p":"h18","x":394,"y":132,"s":1},{"p":"h18","x":341,"y":143.6,"s":1},{"p":"h18","x":319,"y":152,"s":1},{"p":"h18","x":315.6,"y":162,"s":1},
{"p":"h19","x":384.7,"y":161.6,"s":1},{"p":"h19","x":401,"y":165.4,"s":1},{"p":"h19","x":415,"y":163,"s":1},{"p":"h19","x":423,"y":162,"s":1},{"p":"h19","x":432,"y":153.8,"s":1},{"p":"h19","x":413.5,"y":151,"s":1},{"p":"h19","x":398,"y":151,"s":1},{"p":"h19","x":387,"y":153,"s":1},{"p":"h19","x":384.7,"y":161.6,"s":1}
]},
"transform":[{"lookup":"p","from":{"data":{"name":"regions"},"key":"p","fields":["band","contour"]}}],
"resolve":{"axis":{"x":"independent","y":"independent"}},
"layer":[
{"mark":{"type":"line","stroke":null,"strokeWidth":0,"interpolate":"catmull-rom","clip":true},
 "encoding":{
  "x":{"field":"x","type":"quantitative","scale":{"domain":[0,800],"nice":false},"title":"Windward Roof Edge (mm)",
   "axis":{"orient":"bottom","values":[0,100,200,300,400,500,600,700,800],"grid":false,"tickSize":23,"tickColor":"black","domainColor":"black","labelColor":"black","labelFontSize":39,"labelPadding":14,"labelFlush":false,"labelOverlap":false,"labelBound":false,"titleFontSize":53,"titleFontWeight":"normal","titleColor":"black","titlePadding":48,"zindex":1}},
  "y":{"field":"y","type":"quantitative","scale":{"domain":[0,800],"nice":false},"title":"Side Edge (mm)",
   "axis":{"orient":"left","values":[0,100,200,300,400,500,600,700,800],"grid":false,"tickSize":21,"tickColor":"black","domainColor":"black","labelColor":"black","labelFontSize":39,"labelPadding":6,"labelFlush":false,"labelOverlap":false,"labelBound":false,"titleFontSize":53,"titleFontWeight":"normal","titleColor":"black","titlePadding":36,"zindex":1}},
  "fill":{"field":"band","type":"ordinal","legend":null,"scale":{
   "domain":[-0.05,-0.04,-0.03,-0.02,-0.01,0,0.01,0.02,0.03,0.04,0.05,0.06,0.07,0.08,0.09,0.1,0.11,0.12,0.13,0.14,0.15,0.16,0.17,0.18,0.19],
   "range":["#000000","#000000","#000066","#0000CC","#0022FF","#0070FF","#00B4FF","#00FFFF","#00EECC","#00DDA0","#00C866","#00B040","#009E00","#4DB300","#B8E600","#FFEE00","#FFB400","#FF8000","#FF5000","#FF1E00","#FF2828","#FF6666","#FFA8A8","#FFF0EE","#FFFFFF"]}},
  "detail":{"field":"p"},
  "order":{"value":null}}},
{"transform":[{"filter":"isValid(datum.s)"}],
 "mark":{"type":"line","strokeWidth":1.1,"interpolate":"catmull-rom","clip":true},
 "encoding":{
  "x":{"field":"x","type":"quantitative","scale":{"domain":[0,800],"nice":false},"title":null,
   "axis":{"orient":"top","values":[0,100,200,300,400,500,600,700,800],"grid":false,"tickSize":25,"tickColor":"black","domainColor":"black","labels":false,"zindex":1,"title":"Leeward Roof Edge","titleFontSize":53,"titleFontWeight":"normal","titleColor":"black","titlePadding":31}},
  "y":{"field":"y","type":"quantitative","scale":{"domain":[0,800],"nice":false},"title":null,
   "axis":{"orient":"right","values":[0,100,200,300,400,500,600,700,800],"grid":false,"tickSize":23,"tickColor":"black","domainColor":"black","labels":false,"zindex":1,"title":"Side Edge","titleFontSize":53,"titleFontWeight":"normal","titleColor":"black","titlePadding":94,"titleAngle":270}},
  "stroke":{"field":"contour","type":"ordinal","legend":null,"scale":{
   "domain":[-0.04,-0.03,-0.02,-0.01,0,0.01,0.02,0.03,0.04,0.05,0.06,0.07,0.08,0.09,0.1,0.11,0.12,0.13,0.14,0.15,0.16,0.17,0.18,0.19],
   "range":["#aaaaaa","#aaaaaa","#aaaaaa","#aaaaaa","#000000","#aaaaaa","#aaaaaa","#aaaaaa","#aaaaaa","#000000","#aaaaaa","#aaaaaa","#aaaaaa","#aaaaaa","#000000","#aaaaaa","#aaaaaa","#aaaaaa","#aaaaaa","#000000","#aaaaaa","#aaaaaa","#aaaaaa","#aaaaaa"]}},
  "detail":[{"field":"p"},{"field":"s"}],
  "order":{"value":null}}},
{"data":{"values":[{"x":400,"y":10,"y2":312}]},
 "mark":{"type":"rule","strokeWidth":8.7,"color":"black"},
 "encoding":{"x":{"field":"x","type":"quantitative","axis":null},"y":{"field":"y","type":"quantitative","axis":null},"y2":{"field":"y2"}}},
{"data":{"values":[{"x":400,"y":316.6,"end":"top"},{"x":400,"y":6.5,"end":"bottom"}]},
 "mark":{"type":"point","filled":true,"size":676,"color":"black","opacity":1},
 "encoding":{"x":{"field":"x","type":"quantitative","axis":null},"y":{"field":"y","type":"quantitative","axis":null},
  "shape":{"field":"end","type":"nominal","legend":null,"scale":{"domain":["top","bottom"],"range":["triangle-up","triangle-down"]}}}},
{"data":{"values":[{"x":148,"y":575.5,"t":"0"},{"x":439.4,"y":605.4,"t":"0"},{"x":714,"y":620,"t":"0"},{"x":367,"y":321.6,"t":"0"},{"x":667,"y":291,"t":"0"},{"x":385.6,"y":245,"t":"0.1"},{"x":393,"y":209,"t":"0.15"},{"x":608,"y":74.4,"t":"0.15"}]},
 "mark":{"type":"text","fontSize":50,"font":"Lato","color":"black"},
 "encoding":{"x":{"field":"x","type":"quantitative","axis":null},"y":{"field":"y","type":"quantitative","axis":null},"text":{"field":"t"}}},
{"data":{"values":[{"x":101,"y":250.7,"t":"0.05"}]},
 "mark":{"type":"text","fontSize":50,"font":"Lato","color":"black","angle":345},
 "encoding":{"x":{"field":"x","type":"quantitative","axis":null},"y":{"field":"y","type":"quantitative","axis":null},"text":{"field":"t"}}},
{"data":{"values":[{"x":425,"y":275,"t":"0.05"}]},
 "mark":{"type":"text","fontSize":50,"font":"Lato","color":"black","angle":5},
 "encoding":{"x":{"field":"x","type":"quantitative","axis":null},"y":{"field":"y","type":"quantitative","axis":null},"text":{"field":"t"}}},
{"data":{"values":[{"x":86.6,"y":168,"t":"0.1"}]},
 "mark":{"type":"text","fontSize":50,"font":"Lato","color":"black","angle":315},
 "encoding":{"x":{"field":"x","type":"quantitative","axis":null},"y":{"field":"y","type":"quantitative","axis":null},"text":{"field":"t"}}},
{"data":{"values":[{"x":689.5,"y":184.4,"t":"0.1"},{"x":82.5,"y":366.8,"t":"0"}]},
 "mark":{"type":"text","fontSize":50,"font":"Lato","color":"black","angle":25},
 "encoding":{"x":{"field":"x","type":"quantitative","axis":null},"y":{"field":"y","type":"quantitative","axis":null},"text":{"field":"t"}}},
{"data":{"values":[{"x":276,"y":113,"t":"0.15"}]},
 "mark":{"type":"text","fontSize":50,"font":"Lato","color":"black","angle":10},
 "encoding":{"x":{"field":"x","type":"quantitative","axis":null},"y":{"field":"y","type":"quantitative","axis":null},"text":{"field":"t"}}},
{"data":{"values":[{"x":428,"y":171,"t":"X"}]},
 "mark":{"type":"text","fontSize":100,"font":"Liberation Serif","fontWeight":"bold","color":"black","angle":270},
 "encoding":{"x":{"field":"x","type":"quantitative","axis":null},"y":{"field":"y","type":"quantitative","axis":null},"text":{"field":"t"}}},
{"data":{"values":[{"x":442.5,"y":189,"t":"r"}]},
 "mark":{"type":"text","fontSize":42,"font":"Liberation Serif","fontWeight":"bold","fontStyle":"italic","color":"black","angle":270},
 "encoding":{"x":{"field":"x","type":"quantitative","axis":null},"y":{"field":"y","type":"quantitative","axis":null},"text":{"field":"t"}}}
]
}
